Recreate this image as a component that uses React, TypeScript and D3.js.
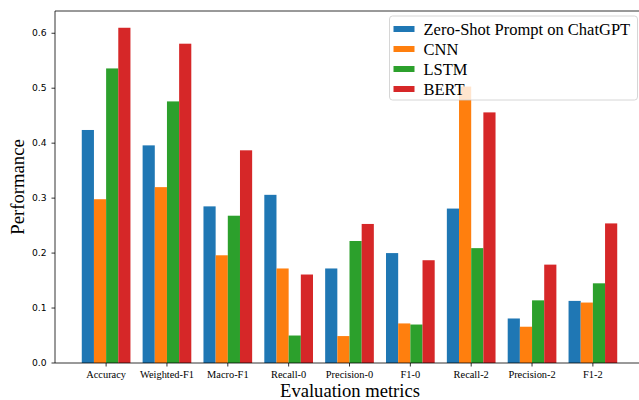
import * as d3 from "d3";

const categories = [
  "Accuracy",
  "Weighted-F1",
  "Macro-F1",
  "Recall-0",
  "Precision-0",
  "F1-0",
  "Recall-2",
  "Precision-2",
  "F1-2",
];

const seriesNames = ["Zero-Shot Prompt on ChatGPT", "CNN", "LSTM", "BERT"];
const colors = ["#1f77b4", "#ff7f0e", "#2ca02c", "#d62728"];

const chatgpt = [0.424, 0.396, 0.285, 0.306, 0.172, 0.2, 0.281, 0.081, 0.113];
const cnn = [0.298, 0.32, 0.196, 0.172, 0.049, 0.072, 0.503, 0.066, 0.11];
const lstm = [0.536, 0.476, 0.268, 0.05, 0.222, 0.07, 0.209, 0.114, 0.145];
const bert = [0.61, 0.581, 0.387, 0.161, 0.253, 0.187, 0.456, 0.179, 0.254];

const yTicks = [0.0, 0.1, 0.2, 0.3, 0.4, 0.5, 0.6];

const W = 639;
const H = 400;
// the axes run past the right edge of the figure (cropped)
const margin = { left: 55, right: -5, top: 11, bottom: 37 };

export default function App() {
  const series = [chatgpt, cnn, lstm, bert];
  const plotW = W - margin.left - margin.right;
  const plotH = H - margin.top - margin.bottom;
  const barW = 0.2;

  const maxV = d3.max(series.flat()) || 0;
  const x = d3
    .scaleLinear()
    .domain([-0.4 - 0.44, categories.length - 1 + 0.4 + 0.44])
    .range([0, plotW]);
  const y = d3.scaleLinear().domain([0, maxV * 1.05]).range([plotH, 0]);

  const serif = "'Liberation Serif', 'Times New Roman', serif";
  const sans = "'DejaVu Sans', sans-serif";

  return (
    <svg
      width={W}
      height={H}
      style={{ position: "absolute", left: 0, top: 0, background: "#fff" }}
    >
      <g transform={`translate(${margin.left},${margin.top})`}>
        {series.map((vals, s) => (
          <g key={s} fill={colors[s]}>
            {vals.map((v, i) => {
              const x0 = x(i + (s - 2) * barW);
              const x1 = x(i + (s - 1) * barW);
              return (
                <rect
                  key={i}
                  x={x0}
                  y={y(v)}
                  width={x1 - x0}
                  height={y(0) - y(v)}
                />
              );
            })}
          </g>
        ))}

        {/* spines */}
        <g stroke="#000" strokeWidth={0.8} fill="none">
          <line x1={0} y1={0} x2={0} y2={plotH} />
          <line x1={0} y1={plotH} x2={plotW} y2={plotH} />
          <line x1={0} y1={0} x2={plotW} y2={0} />
        </g>

        {/* y axis */}
        {yTicks.map((t) => (
          <g key={t} transform={`translate(0,${y(t)})`}>
            <line x1={-3.5} x2={0} stroke="#000" strokeWidth={0.8} />
            <text
              x={-8.5}
              dy="0.35em"
              textAnchor="end"
              fontFamily={sans}
              fontSize={9.2}
              fill="#000"
            >
              {t.toFixed(1)}
            </text>
          </g>
        ))}

        {/* x axis */}
        {categories.map((c, i) => (
          <g key={c} transform={`translate(${x(i)},${plotH})`}>
            <line y1={0} y2={3.5} stroke="#000" strokeWidth={0.8} />
            <text
              y={15}
              textAnchor="middle"
              fontFamily={serif}
              fontSize={10.4}
              fill="#000"
            >
              {c}
            </text>
          </g>
        ))}
      </g>

      <text
        x={350}
        y={397}
        textAnchor="middle"
        fontFamily={serif}
        fontSize={18.6}
        fill="#000"
      >
        Evaluation metrics
      </text>
      <text
        transform={`translate(24,${margin.top + plotH / 2}) rotate(-90)`}
        textAnchor="middle"
        fontFamily={serif}
        fontSize={18.7}
        fill="#000"
      >
        Performance
      </text>

      {/* legend */}
      <g transform="translate(389.5,16)">
        <rect
          x={0}
          y={0}
          width={248}
          height={84}
          rx={3}
          fill="#fff"
          fillOpacity={0.8}
          stroke="#cccccc"
          strokeWidth={0.8}
        />
        {seriesNames.map((n, s) => (
          <g key={n} transform={`translate(0,${13 + s * 20})`}>
            <rect x={4} y={-3} width={21} height={6} fill={colors[s]} />
            <text
              x={34}
              dy="0.35em"
              fontFamily={serif}
              fontSize={16.5}
              fill="#000"
            >
              {n}
            </text>
          </g>
        ))}
      </g>
    </svg>
  );
}
